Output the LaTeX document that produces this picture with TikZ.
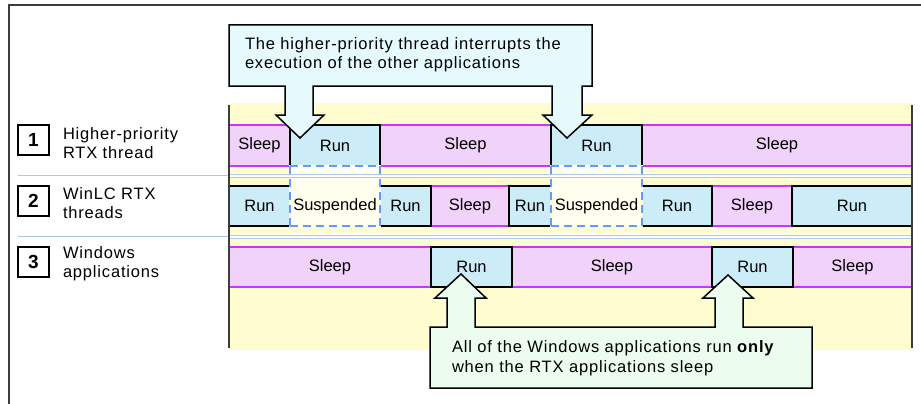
\documentclass[tikz,border=0pt]{standalone}
\usepackage{fontspec}
\setmainfont{Liberation Sans}
\newfontfamily\spacedfont{Liberation Sans}[LetterSpace=5]
\definecolor{bgyellow}{RGB}{255,253,208}
\definecolor{sleepfill}{RGB}{240,210,250}
\definecolor{magline}{RGB}{204,51,255}
\definecolor{runfill}{RGB}{204,236,248}
\definecolor{suspfill}{RGB}{255,255,240}
\definecolor{dashblue}{RGB}{102,153,255}
\definecolor{sepblue}{RGB}{170,200,240}
\definecolor{callcyan}{RGB}{230,250,254}
\definecolor{callgreen}{RGB}{236,252,238}
\definecolor{framegray}{RGB}{60,60,60}
\newcommand\cellnode[7]{\node[#6, minimum width={#3pt-#2pt}, minimum height={#5pt-#4pt}] (#1) at (#2,#4) {#7};}
\begin{document}
\begin{tikzpicture}[x=1pt,y=-1pt,
  txt/.style={font=\fontsize{16.5}{19}\selectfont, inner sep=0pt, outer sep=0pt},
  basecell/.style={txt, anchor=north west, rectangle},
  runbox/.style={basecell, draw=black, line width=1.5pt, fill=runfill},
  sleepbox/.style={basecell, fill=sleepfill},
  suspbox/.style={basecell},
  magstroke/.style={draw=magline, line width=1.6pt},
  chartline/.style={draw=framegray, line width=2pt},
  sepline/.style={draw=sepblue, line width=0.9pt},
  dashline/.style={draw=dashblue, line width=1.5pt, dash pattern=on 8pt off 5pt},
  callout/.style={draw=black, line width=1.5pt, line join=miter},
  label/.style={inner sep=0pt, outer sep=0pt, anchor=base west, font=\spacedfont\fontsize{16.5}{19}\selectfont},
  numbox/.style={draw=black, line width=2pt, minimum width=31pt, minimum height=30pt, inner sep=0pt, font=\fontsize{19}{19}\selectfont\bfseries}
]
\useasboundingbox (0,0) rectangle (921,404);
\fill[white] (0,0) rectangle (921,404);
% outer frame
\draw[draw=framegray, line width=2pt] (9,404) -- (9,5) -- (921,5);
% chart background
\fill[bgyellow] (229,103) rectangle (912,350);

% row 1
\cellnode{r1a}{229}{290}{125}{166}{sleepbox}{Sleep}
\cellnode{r1c}{380}{551}{125}{166}{sleepbox}{Sleep}
\cellnode{r1e}{642}{912}{125}{166}{sleepbox}{Sleep}
% row 2
\cellnode{r2d}{431}{509}{186}{226}{sleepbox}{Sleep}
\cellnode{r2h}{712}{792}{186}{226}{sleepbox}{Sleep}
% row 3
\cellnode{r3a}{229}{431}{247}{287}{sleepbox}{Sleep}
\cellnode{r3c}{512}{712}{247}{287}{sleepbox}{Sleep}
\cellnode{r3e}{793}{912}{247}{287}{sleepbox}{Sleep}

\foreach \n in {r1a,r1c,r1e,r2d,r2h,r3a,r3c,r3e}
  \draw[magstroke] (\n.north west) -- (\n.north east) (\n.south west) -- (\n.south east);

% run boxes
\cellnode{r1run1}{290}{380}{125}{166}{runbox}{Run}
\cellnode{r1run2}{551}{642}{125}{166}{runbox}{Run}
\cellnode{r2run1}{229}{290}{186}{226}{runbox}{Run}
\cellnode{r2run2}{380}{431}{186}{226}{runbox}{Run}
\cellnode{r2run3}{509}{551}{186}{226}{runbox}{Run}
\cellnode{r2run4}{642}{712}{186}{226}{runbox}{Run}
\cellnode{r2run5}{792}{912}{186}{226}{runbox}{Run}
\cellnode{r3run1}{431}{512}{247}{287}{runbox}{Run}
\cellnode{r3run2}{712}{793}{247}{287}{runbox}{Run}

% suspended regions
\foreach \a/\b in {290/380,551/642}{
  \fill[suspfill, draw=suspfill, line width=2.4pt] (\a,166) rectangle (\b,226);
}
\cellnode{r2b}{290}{380}{186}{226}{suspbox}{Suspended}
\cellnode{r2f}{551}{642}{186}{226}{suspbox}{Suspended}

% separators
\fill[white] (229,173) rectangle (912,178);
\fill[white] (229,234) rectangle (912,239);
\draw[sepline] (18,175.5) -- (229,175.5);
\draw[sepline] (18,236.5) -- (229,236.5);
\draw[sepline] (229,174) -- (912,174) (229,177) -- (912,177);
\draw[sepline] (229,235) -- (912,235) (229,238) -- (912,238);

% dashed outlines of suspended regions
\foreach \a/\b in {290/380,551/642}{
  \draw[dashline] (\a,166) -- (\b,166);
  \draw[dashline] (\a,226) -- (\b,226);
  \draw[dashline] (\a,166) -- (\a,226);
  \draw[dashline] (\b,166) -- (\b,226);
}

% chart side lines
\draw[chartline] (229,105) -- (229,348);
\draw[chartline] (912,105) -- (912,348);

% callout 1
\draw[callout, fill=callcyan] (229,25) -- (592,25) -- (592,86) -- (582,86) -- (582,115) -- (592,115)
  -- (567,138) -- (543,115) -- (552,115) -- (552,86) -- (313,86) -- (313,115) -- (324,115)
  -- (300,138) -- (276,115) -- (285,115) -- (285,86) -- (229,86) -- cycle;
\node[label] (c1a) at (245,50) {The higher-priority thread interrupts the};
\node[label] (c1b) at (245,69) {execution of the other applications};

% callout 2
\draw[callout, fill=callgreen] (430,327) -- (447,327) -- (447,298) -- (435,298) -- (461,274)
  -- (486,298) -- (475,298) -- (475,327) -- (715,327) -- (715,298) -- (703,298) -- (728,275)
  -- (753,298) -- (743,298) -- (743,327) -- (812,327) -- (812,388) -- (430,388) -- cycle;
\node[label] (c2a) at (452,352) {All of the Windows applications run {\bfseries only}};
\node[label] (c2b) at (452,372) {when the RTX applications sleep};

% row labels
\node[numbox] (n1) at (33.5,140) {1};
\node[numbox] (n2) at (33.5,201) {2};
\node[numbox] (n3) at (33.5,262) {3};
\node[label] (l1a) at (63,139) {Higher-priority};
\node[label] (l1b) at (63,158) {RTX thread};
\node[label] (l2a) at (63,199) {WinLC RTX};
\node[label] (l2b) at (63,218) {threads};
\node[label] (l3a) at (63,258) {Windows};
\node[label] (l3b) at (63,277) {applications};
\end{tikzpicture}
\end{document}
